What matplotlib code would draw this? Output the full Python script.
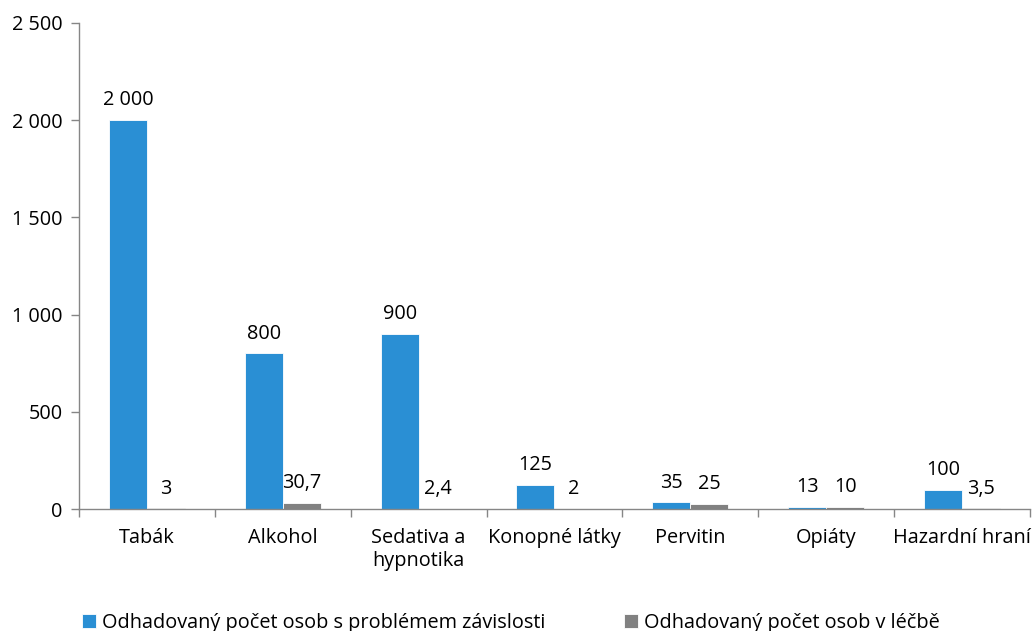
import numpy as np
import matplotlib.pyplot as plt
from matplotlib.ticker import FuncFormatter

categories = ["Tabák", "Alkohol", "Sedativa a\nhypnotika", "Konopné látky",
              "Pervitin", "Opiáty", "Hazardní hraní"]
problem = [2000, 800, 900, 125, 35, 13, 100]
treated = [3, 30.7, 2.4, 2, 25, 10, 3.5]
names = ["Odhadovaný počet osob s problémem závislosti",
         "Odhadovaný počet osob v léčbě"]

blue = "#2A8FD4"
gray = "#818181"
axis_col = "#868686"

plt.rcParams['font.family'] = ['Open Sans', 'DejaVu Sans']
plt.rcParams['font.size'] = 14.3

fig = plt.figure(figsize=(10.32, 6.31), dpi=100)
ax = fig.add_axes([0.0766, 0.1933, 0.9214, 0.7703])

x = np.arange(len(categories))
w = 0.28
b1 = ax.bar(x - w / 2, problem, w, color=blue, edgecolor="white", linewidth=0.6, label=names[0])
b2 = ax.bar(x + w / 2, treated, w, color=gray, edgecolor="white", linewidth=0.6, label=names[1])


def fmt(v):
    if float(v).is_integer():
        s = f"{int(v):,}".replace(",", " ")
    else:
        s = f"{v}".replace(".", ",")
    return s


for bars, vals in [(b1, problem), (b2, treated)]:
    for r, v in zip(bars, vals):
        ax.annotate(fmt(v), (r.get_x() + r.get_width() / 2, r.get_height()),
                    xytext=(0, 7), textcoords="offset points",
                    ha="center", va="bottom")

ax.set_xlim(-0.5, len(categories) - 0.5)
ax.set_ylim(0, 2500)
ax.set_yticks(np.arange(0, 2501, 500))
ax.yaxis.set_major_formatter(FuncFormatter(lambda v, p: f"{int(v):,}".replace(",", " ")))

ax.set_xticks(x)
ax.set_xticklabels(categories)
ax.set_xticks(np.arange(-0.5, len(categories), 1), minor=True)
ax.tick_params(axis="x", which="major", length=0, pad=14)
ax.tick_params(axis="x", which="minor", length=6, color=axis_col, width=1)
ax.tick_params(axis="y", length=6, color=axis_col, width=1, pad=6)

for s in ["top", "right"]:
    ax.spines[s].set_visible(False)
for s in ["left", "bottom"]:
    ax.spines[s].set_color(axis_col)
    ax.spines[s].set_linewidth(1)

# two legend entries placed separately, like the original
for h, lab, xpos in [(b1, names[0], 0.066), (b2, names[1], 0.591)]:
    fig.legend(handles=[h], labels=[lab], loc="lower left", bbox_to_anchor=(xpos, -0.025),
               frameon=False, handlelength=0.7, handleheight=0.7, handletextpad=0.3,
               borderaxespad=0.3)

fig.savefig("out.png", dpi=100)
